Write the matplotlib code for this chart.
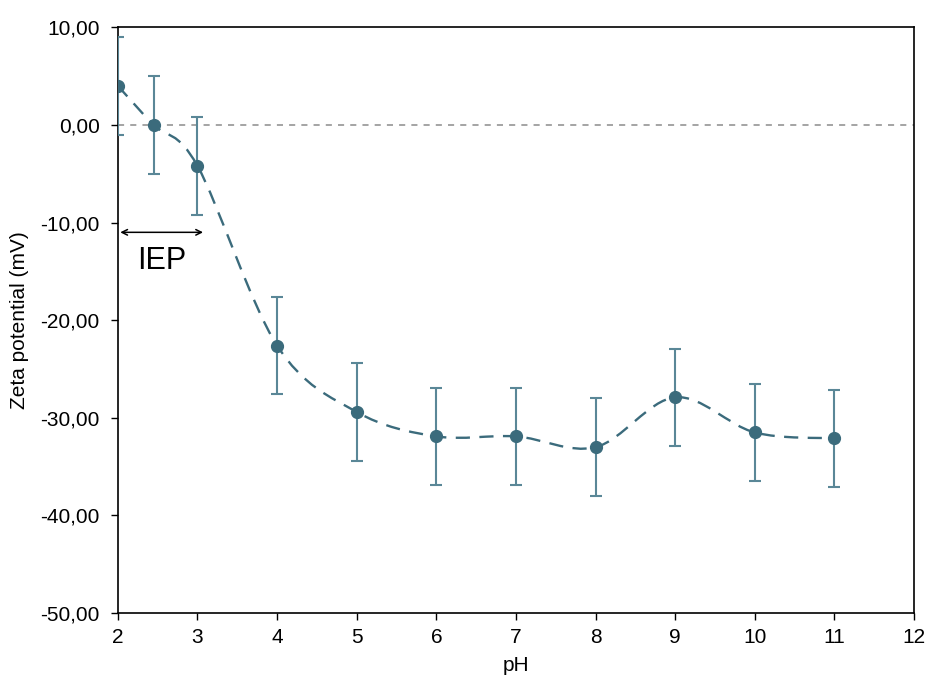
import numpy as np
import matplotlib
matplotlib.use("Agg")
import matplotlib.pyplot as plt
from matplotlib.path import Path
from matplotlib.patches import PathPatch
from matplotlib.ticker import FuncFormatter

plt.rcParams['font.family'] = ['Liberation Sans', 'DejaVu Sans']

ph = [2, 2.45, 3, 4, 5, 6, 7, 8, 9, 10, 11]
zeta = [4.0, 0.0, -4.2, -22.6, -29.4, -31.9, -31.9, -33.0, -27.9, -31.5, -32.1]
err = [5, 5, 5, 5, 5, 5, 5, 5, 5, 5, 5]

line_col = '#3b6b7c'
err_col = '#5a8797'

fig = plt.figure(figsize=(9.28, 6.82), dpi=100)
ax = fig.add_axes([0.127, 0.101, 0.858, 0.859])

# smoothed dashed curve (Excel-like bezier through the points)
x = np.array(ph, float)
y = np.array(zeta, float)
verts = [(x[0], y[0])]
codes = [Path.MOVETO]
n = len(x)
for i in range(n - 1):
    p0 = np.array([x[max(i - 1, 0)], y[max(i - 1, 0)]])
    p1 = np.array([x[i], y[i]])
    p2 = np.array([x[i + 1], y[i + 1]])
    p3 = np.array([x[min(i + 2, n - 1)], y[min(i + 2, n - 1)]])
    c1 = p1 + (p2 - p0) / 6
    c2 = p2 - (p3 - p1) / 6
    verts += [tuple(c1), tuple(c2), tuple(p2)]
    codes += [Path.CURVE4] * 3
ax.add_patch(PathPatch(Path(verts, codes), fill=False, edgecolor=line_col,
                       lw=1.7, linestyle=(0, (6, 4)), zorder=2))

ax.errorbar(ph, zeta, yerr=err, fmt='none', ecolor=err_col, elinewidth=1.5,
            capsize=4.3, capthick=1.5, zorder=3)
ax.plot(ph, zeta, 'o', color=line_col, markersize=8.5, zorder=4)

ax.axhline(0, color='#8c8c8c', lw=1.1, linestyle=(0, (4, 4)), zorder=1)

ax.annotate('', xy=(2.03, -11), xytext=(3.07, -11),
            arrowprops=dict(arrowstyle='<->', color='black', lw=1.1,
                            shrinkA=0, shrinkB=0))
ax.text(2.55, -13.9, 'IEP', fontsize=22, ha='center', va='center')

ax.set_xlim(2, 12)
ax.set_ylim(-50, 10)
ax.set_xticks(range(2, 13))
ax.set_yticks(range(-50, 11, 10))
ax.yaxis.set_major_formatter(FuncFormatter(lambda v, p: f"{v:.2f}".replace('.', ',')))
ax.tick_params(direction='out', length=5, width=1, labelsize=15, colors='black')
ax.tick_params(axis='y', pad=8)
ax.tick_params(axis='x', pad=6)
for s in ax.spines.values():
    s.set_linewidth(1.2)

ax.set_xlabel('pH', fontsize=15, labelpad=6)
ax.set_ylabel('Zeta potential (mV)', fontsize=15, labelpad=8)

fig.savefig('out.png', dpi=100)
